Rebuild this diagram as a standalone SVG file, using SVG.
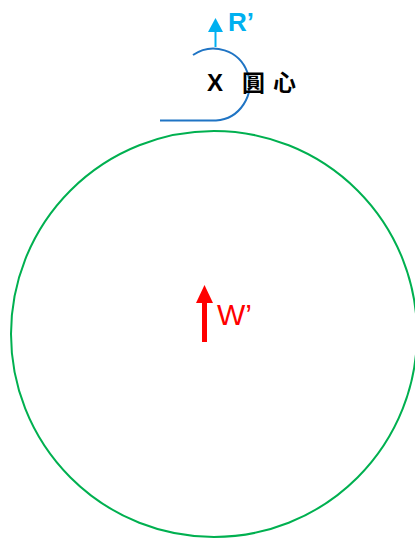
<svg xmlns="http://www.w3.org/2000/svg" width="415" height="539" viewBox="0 0 415 539">
<defs>
<style>
.blue{fill:none;stroke:#1F74C4;stroke-width:2}
.green{fill:none;stroke:#00B050;stroke-width:2}
.lbl{font-family:"Liberation Sans","Noto Sans CJK TC",sans-serif}
</style>
</defs>
<rect width="415" height="539" fill="#fff"/>
<g id="circle">
<circle class="green" cx="214" cy="334" r="203"/>
</g>
<g id="center-arc">
<path class="blue" d="M193,55 A36,36 0 1 1 216,120.5 L160,120.5"/>
</g>
<g id="connectors">
<g id="arrow-r">
<line x1="215.5" y1="47" x2="215.5" y2="31" stroke="#00B0F0" stroke-width="2"/>
<polygon points="215.5,18 223,32 208,32" fill="#00B0F0"/>
</g>
<g id="arrow-w">
<rect x="202" y="301" width="5" height="41" fill="#FF0000"/>
<polygon points="204.5,285 213,303 196,303" fill="#FF0000"/>
</g>
</g>
<g id="labels">
<text class="lbl" x="228" y="31" font-size="26" font-weight="bold" fill="#00B0F0">R’</text>
<text class="lbl" x="207" y="91" font-size="24" font-weight="bold" fill="#000">X</text>
<text class="lbl" x="242" y="91" font-size="23" font-weight="bold" fill="#000" letter-spacing="8">圓心</text>
<text class="lbl" x="217" y="325" font-size="30" fill="#FF0000">W’</text>
</g>
</svg>
